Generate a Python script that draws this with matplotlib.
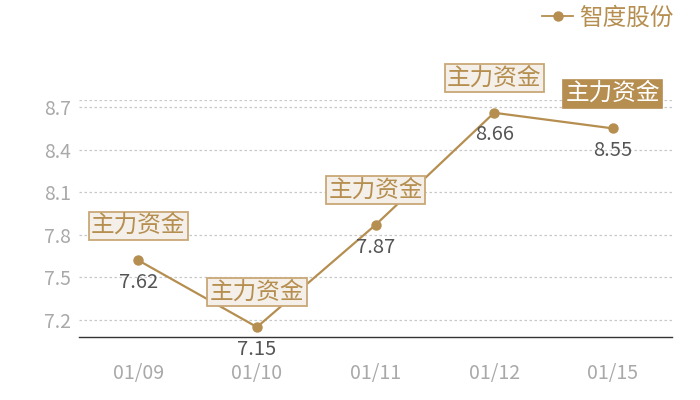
import matplotlib
matplotlib.use("Agg")
import matplotlib.pyplot as plt
from matplotlib.lines import Line2D

plt.rcParams['font.family'] = ['Noto Sans CJK SC', 'DejaVu Sans']

dates = ["01/09", "01/10", "01/11", "01/12", "01/15"]
prices = [7.62, 7.15, 7.87, 8.66, 8.55]
box_labels = ["主力资金", "主力资金", "主力资金", "主力资金", "主力资金"]
highlight = [False, False, False, False, True]
yticks = [7.2, 7.5, 7.8, 8.1, 8.4, 8.7]
series_name = "智度股份"

gold = "#b58e50"
grid_c = "#c8c8c8"
tick_c = "#a9a9a9"
val_c = "#555555"

fig = plt.figure(figsize=(7, 4), dpi=100)
ax = fig.add_axes([0.113, 0.1575, 0.847, 0.5925])

x = list(range(len(dates)))
ax.plot(x, prices, color=gold, lw=1.6, marker="o", ms=6.5, zorder=3)

ax.set_xlim(-0.5, len(dates) - 0.5)
ax.set_ylim(7.08, 8.75)
ax.set_yticks(yticks)
ax.set_yticklabels([f"{v:.1f}" for v in yticks])
ax.set_xticks(x)
ax.set_xticklabels(dates)

for v in yticks + [8.75]:
    ax.axhline(v, color=grid_c, lw=0.9, ls=(0, (2, 2)), zorder=1)

for s in ["top", "right", "left"]:
    ax.spines[s].set_visible(False)
ax.spines["bottom"].set_color("#333333")
ax.spines["bottom"].set_linewidth(1.0)

ax.tick_params(axis="both", length=0, colors=tick_c, labelsize=14)
ax.tick_params(axis="x", pad=18.5)
ax.tick_params(axis="y", pad=6)

for xi, p, lab, hl in zip(x, prices, box_labels, highlight):
    ax.annotate(f"{p:.2f}", (xi, p), xytext=(0, -16), textcoords="offset points",
                ha="center", va="center", color=val_c, fontsize=14.5, zorder=4)
    if hl:
        bb = dict(boxstyle="square,pad=0.1", fc=gold, ec=gold, lw=1.2)
        tc = "white"
    else:
        bb = dict(boxstyle="square,pad=0.1", fc="#f4efe8", ec="#c9a877", lw=1.3)
        tc = gold
    ax.annotate(lab, (xi, p), xytext=(0, 25), textcoords="offset points",
                ha="center", va="center", color=tc, fontsize=17, bbox=bb, zorder=5)

h = Line2D([], [], color=gold, lw=1.3, marker="o", ms=6.5)
leg = ax.legend([h], [series_name], loc="center right", bbox_to_anchor=(0.962, 0.955),
                bbox_transform=fig.transFigure, frameon=False, handlelength=1.3,
                handletextpad=0.25, fontsize=17, borderaxespad=0, borderpad=0)
for t in leg.get_texts():
    t.set_color(gold)

fig.savefig("out.png", dpi=100)
